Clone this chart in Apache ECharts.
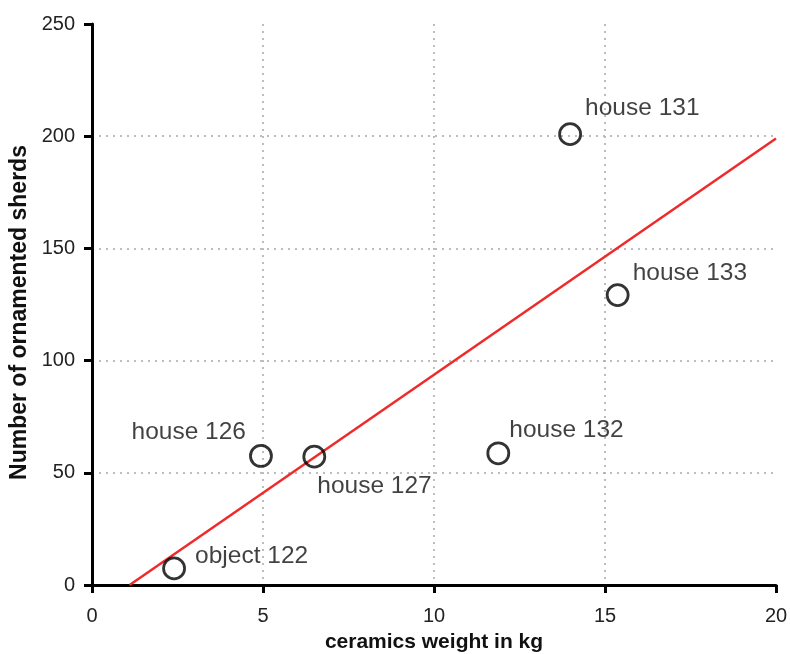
<!DOCTYPE html>
<html>
<head>
<meta charset="utf-8">
<script src="https://cdn.jsdelivr.net/npm/echarts@6/dist/echarts.min.js"></script>
<style>
    html, body { margin: 0; padding: 0; background: #fff; }
    #chart { width: 790px; height: 654px; }
</style>
</head>
<body>
<div id="chart"></div>
<script>
    // sample points
    const names = ['object 122', 'house 126', 'house 127', 'house 132', 'house 131', 'house 133']
    const weights = [2.4, 4.94, 6.5, 11.88, 13.98, 15.37]
    const sherds = [7.4, 57.5, 57.2, 58.7, 200.9, 129.2]

    // ends of the red fitted line
    const fitX = [1.1, 20]
    const fitY = [0, 199]

    const xTicks = [0, 5, 10, 15, 20]
    const yTicks = [0, 50, 100, 150, 200, 250]

    // where each point's label sits relative to its circle
    const labelPlace = {
        'object 122': { align: 'left', offset: [21, -12] },
        'house 126': { align: 'right', offset: [-15, -24] },
        'house 127': { align: 'left', offset: [3, 30] },
        'house 132': { align: 'left', offset: [11, -23] },
        'house 131': { align: 'left', offset: [15, -26] },
        'house 133': { align: 'left', offset: [15, -22] }
    }

    const font = "'Liberation Sans', Arial, sans-serif"
    const gridLine = { show: true, showMinLine: false, showMaxLine: false, lineStyle: { color: '#a8a8a8', type: [2, 5], width: 1.5 } }

    const pointData = names.map((n, i) => ({
        name: n,
        value: [weights[i], sherds[i]],
        label: {
            show: true,
            position: 'inside',
            formatter: n,
            align: labelPlace[n].align,
            verticalAlign: 'middle',
            offset: labelPlace[n].offset
        }
    }))

    const chart = echarts.init(document.getElementById('chart'))
    chart.setOption({
        animation: false,
        backgroundColor: '#fff',
        grid: { left: 92, right: 14, top: 24, bottom: 69, containLabel: false, outerBoundsMode: 'none' },
        xAxis: {
            type: 'value',
            min: xTicks[0],
            max: xTicks[xTicks.length - 1],
            interval: 5,
            name: 'ceramics weight in kg',
            nameLocation: 'middle',
            nameGap: 47,
            nameTextStyle: { fontFamily: font, fontSize: 21, fontWeight: 'bold', color: '#111' },
            axisLine: { show: true, onZero: false, lineStyle: { color: '#000', width: 3 } },
            axisTick: { show: true, inside: false, length: 8, lineStyle: { color: '#000', width: 3 } },
            axisLabel: { margin: 21, fontFamily: font, fontSize: 20, color: '#222' },
            splitLine: gridLine
        },
        yAxis: {
            type: 'value',
            min: yTicks[0],
            max: yTicks[yTicks.length - 1],
            interval: 50,
            name: 'Number of ornamented sherds',
            nameLocation: 'middle',
            nameGap: 54,
            nameTextStyle: { fontFamily: font, fontSize: 23, fontWeight: 'bold', color: '#111', padding: [0, 16, 0, 0] },
            axisLine: { show: true, onZero: false, lineStyle: { color: '#000', width: 3 } },
            axisTick: { show: true, inside: false, length: 8, lineStyle: { color: '#000', width: 3 } },
            axisLabel: { margin: 17, fontFamily: font, fontSize: 20, color: '#222' },
            splitLine: gridLine
        },
        series: [
            {
                type: 'line',
                data: fitX.map((x, i) => [x, fitY[i]]),
                symbol: 'none',
                silent: true,
                z: 2,
                lineStyle: { color: '#ee2a2a', width: 2.5 }
            },
            {
                type: 'scatter',
                data: pointData,
                symbol: 'circle',
                symbolSize: 21,
                z: 3,
                itemStyle: { color: 'rgba(255,255,255,0)', borderColor: '#000', borderWidth: 2.8 },
                label: { fontFamily: font, fontSize: 24.5, color: '#111' }
            }
        ]
    })
</script>
</body>
</html>
